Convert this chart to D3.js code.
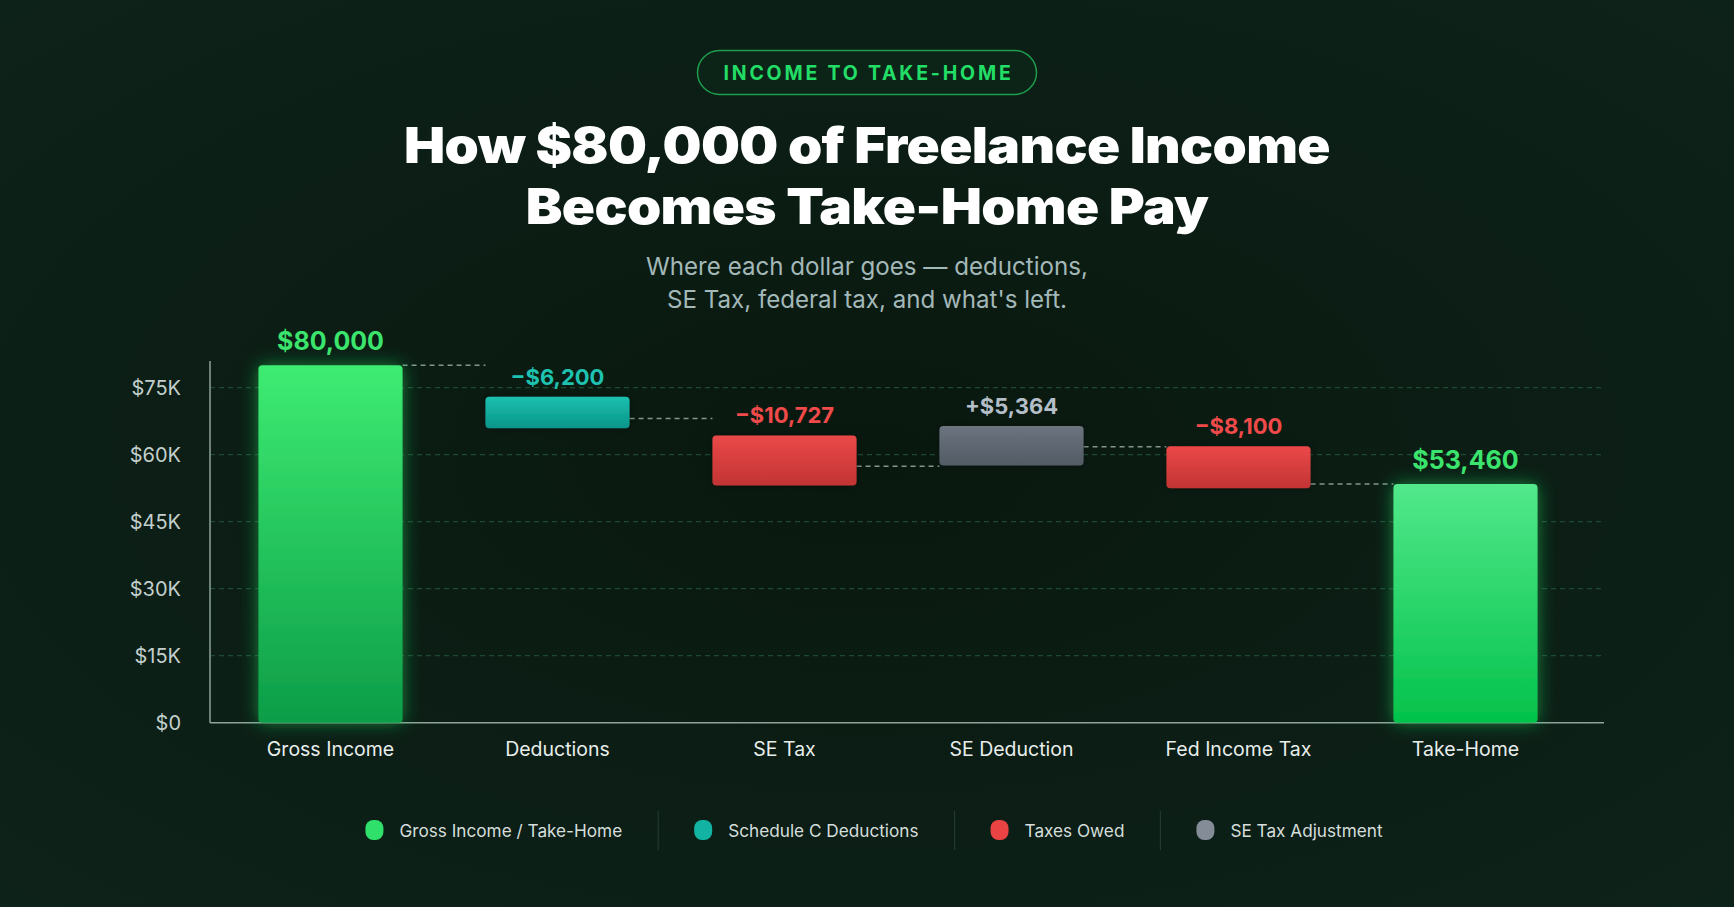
<!DOCTYPE html>
<html>
<head>
<meta charset="utf-8">
<script src="https://cdn.jsdelivr.net/npm/d3@7/dist/d3.min.js"></script>
<style>
  html, body { margin: 0; padding: 0; background: #0a1a12; }
  svg { display: block; }
</style>
</head>
<body>
<svg id="chart" width="1734" height="907"></svg>
<script>
// ---- data ----
const categories = ["Gross Income", "Deductions", "SE Tax", "SE Deduction", "Fed Income Tax", "Take-Home"];
const changes = [80000, -6200, -10727, 5364, -8100, 53460];
const kinds = ["total", "deduction", "tax", "adjust", "tax", "total"];
// floating bar extents (dollars)
const barLow  = [0, 65900, 53100, 57600, 52500, 0];
const barHigh = [80000, 73000, 64300, 66400, 61900, 53460];
// dashed connector level between consecutive bars (dollars)
const connectorLevel = [80000, 68100, 57400, 61800, 53460];
const yTicks = [0, 15000, 30000, 45000, 60000, 75000];
const legendLabels = ["Gross Income / Take-Home", "Schedule C Deductions", "Taxes Owed", "SE Tax Adjustment"];
const legendKinds = ["total", "deduction", "tax", "adjust"];

const colors = {
  total:     { label: "#3be46d", legend: "#2fe06a" },
  deduction: { label: "#1ec2b1", legend: "#13b3a4", top: "#1cc0af", bottom: "#09958a" },
  tax:       { label: "#f04a4a", legend: "#e94343", top: "#eb4848", bottom: "#c23434" },
  adjust:    { label: "#b3bec8", legend: "#838c97", top: "#6b747f", bottom: "#525b64" }
};

const W = 1734, H = 907;
const svg = d3.select("#chart");
const defs = svg.append("defs");

// background
const bg = defs.append("radialGradient").attr("id", "bg").attr("cx", "50%").attr("cy", "50%").attr("r", "75%");
bg.append("stop").attr("offset", "0%").attr("stop-color", "#09180f");
bg.append("stop").attr("offset", "100%").attr("stop-color", "#0e231a");
svg.append("rect").attr("width", W).attr("height", H).attr("fill", "url(#bg)");

function vGrad(id, top, bottom) {
  const g = defs.append("linearGradient").attr("id", id).attr("x1", 0).attr("y1", 0).attr("x2", 0).attr("y2", 1);
  g.append("stop").attr("offset", "0%").attr("stop-color", top);
  g.append("stop").attr("offset", "100%").attr("stop-color", bottom);
}
vGrad("g-gross", "#3eec72", "#0c9d48");
vGrad("g-take", "#52e88b", "#03c24b");
vGrad("g-deduction", colors.deduction.top, colors.deduction.bottom);
vGrad("g-tax", colors.tax.top, colors.tax.bottom);
vGrad("g-adjust", colors.adjust.top, colors.adjust.bottom);

function glow(id, color, std, op) {
  const f = defs.append("filter").attr("id", id).attr("x", "-40%").attr("y", "-40%").attr("width", "180%").attr("height", "180%");
  f.append("feGaussianBlur").attr("in", "SourceAlpha").attr("stdDeviation", std).attr("result", "b");
  f.append("feFlood").attr("flood-color", color).attr("flood-opacity", op);
  f.append("feComposite").attr("in2", "b").attr("operator", "in").attr("result", "g");
  const m = f.append("feMerge");
  m.append("feMergeNode").attr("in", "g");
  m.append("feMergeNode").attr("in", "SourceGraphic");
}
glow("glow-green", "#1fd45f", 9, 0.55);
glow("glow-soft", "#000000", 4, 0.35);

// centered lines; width matched to the reference by horizontal scale (title) or size (subtitle)
function textLines(lines, opts) {
  const els = lines.map((line, i) => svg.append("text")
    .attr("transform", `translate(${opts.x},${opts.y + i * opts.lh})`).attr("text-anchor", "middle")
    .attr("font-family", "Inter").attr("font-weight", opts.weight).attr("font-size", opts.size)
    .attr("letter-spacing", opts.ls || null).attr("fill", opts.fill).text(line));
  const w = els[0].node().getComputedTextLength();
  if (opts.fitBy === "stretch") {
    const sx = opts.target / w;
    els.forEach((t, i) => t.attr("transform", `translate(${opts.x},${opts.y + i * opts.lh}) scale(${sx.toFixed(4)},1)`));
  } else {
    els.forEach(t => t.attr("font-size", (opts.size * opts.target / w).toFixed(2)));
  }
}

// ---- header ----
const cx = 867;
svg.append("rect").attr("x", 697.5).attr("y", 50.5).attr("width", 339).attr("height", 44).attr("rx", 22)
  .attr("fill", "#0c2418").attr("stroke", "#1e9e4c").attr("stroke-width", 1.5);
svg.append("text").attr("x", cx + 1.5).attr("y", 80).attr("text-anchor", "middle")
  .attr("font-family", "Inter").attr("font-weight", 700).attr("font-size", 19.5)
  .attr("letter-spacing", "2.8px").attr("fill", "#22dd66").text("INCOME TO TAKE-HOME");

textLines(["How $80,000 of Freelance Income", "Becomes Take-Home Pay"],
  { x: cx, y: 163, lh: 60.5, weight: 900, size: 49.5, ls: "-0.6px", fill: "#ffffff", target: 926, fitBy: "stretch" });

textLines(["Where each dollar goes \u2014 deductions,", "SE Tax, federal tax, and what's left."],
  { x: cx, y: 275, lh: 33, weight: 400, size: 23, fill: "#a3b8b8", target: 442, fitBy: "size" });

// ---- scales ----
const axisX = 210, plotRight = 1604;
const x = d3.scaleBand().domain(categories).range([217, 1579]).paddingInner(0.365).paddingOuter(0.1825);
const y = d3.scaleLinear().domain([0, 81000]).range([722.7, 360.9]);

// gridlines
svg.append("g").selectAll("line").data(yTicks.filter(t => t > 0)).join("line")
  .attr("x1", axisX).attr("x2", plotRight).attr("y1", d => y(d)).attr("y2", d => y(d))
  .attr("stroke", "#1d4a33").attr("stroke-width", 1.2).attr("stroke-dasharray", "5 4");

// y axis
const yAxis = svg.append("g").attr("transform", `translate(${axisX},0)`)
  .call(d3.axisLeft(y).tickValues(yTicks).tickSize(0).tickPadding(29)
    .tickFormat(d => d === 0 ? "$0" : "$" + d / 1000 + "K"));
yAxis.select(".domain").remove();
yAxis.selectAll("text").attr("font-family", "Inter").attr("font-size", 20).attr("fill", "#c3cfcd").attr("dy", "0.35em");
svg.append("line").attr("x1", axisX).attr("x2", axisX).attr("y1", 360.9).attr("y2", 722.7)
  .attr("stroke", "#8ea39a").attr("stroke-width", 1.5);

// x axis
const xAxis = svg.append("g").attr("transform", `translate(0,${y(0)})`)
  .call(d3.axisBottom(x).tickSize(0).tickPadding(19.5));
xAxis.select(".domain").remove();
xAxis.selectAll("text").attr("font-family", "Inter").attr("font-size", 19.5).attr("fill", "#e8eeec").attr("dy", "0.7em");
svg.append("line").attr("x1", axisX).attr("x2", plotRight).attr("y1", y(0)).attr("y2", y(0))
  .attr("stroke", "#8ea39a").attr("stroke-width", 1.5);

// connectors
const conn = connectorLevel.map((lvl, i) => ({ i, lvl }));
svg.append("g").selectAll("line").data(conn).join("line")
  .attr("x1", d => x(categories[d.i]) + x.bandwidth())
  .attr("x2", d => x(categories[d.i + 1]))
  .attr("y1", d => y(d.lvl)).attr("y2", d => y(d.lvl))
  .attr("stroke", "#a9c2b5").attr("stroke-opacity", 0.75).attr("stroke-width", 1.5)
  .attr("stroke-dasharray", "5 4");

// bars
const bars = categories.map((c, i) => ({ c, i, kind: kinds[i], lo: barLow[i], hi: barHigh[i], v: changes[i] }));
function fillFor(d) {
  if (d.kind === "total") return d.i === 0 ? "url(#g-gross)" : "url(#g-take)";
  return "url(#g-" + d.kind + ")";
}
svg.append("g").selectAll("rect").data(bars).join("rect")
  .attr("x", d => x(d.c)).attr("width", x.bandwidth())
  .attr("y", d => y(d.hi)).attr("height", d => y(d.lo) - y(d.hi))
  .attr("rx", 4).attr("fill", fillFor)
  .attr("filter", d => d.kind === "total" ? "url(#glow-green)" : "url(#glow-soft)");

// value labels
const fmt = d3.format(",");
function labelText(d) {
  if (d.kind === "total") return "$" + fmt(d.v);
  return (d.v < 0 ? "\u2212" : "+") + "$" + fmt(Math.abs(d.v));
}
svg.append("g").selectAll("text").data(bars).join("text")
  .attr("x", d => x(d.c) + x.bandwidth() / 2)
  .attr("y", d => y(d.hi) - (d.kind === "total" ? 15 : 12))
  .attr("text-anchor", "middle").attr("font-family", "Inter").attr("font-weight", 700)
  .attr("font-size", d => d.kind === "total" ? 25 : 22)
  .attr("fill", d => colors[d.kind].label).text(labelText);

// ---- legend ----
const lg = svg.append("g");
const ly = 830;
let lx = 0;
legendLabels.forEach((lab, i) => {
  const g = lg.append("g");
  g.append("rect").attr("x", lx).attr("y", ly - 10).attr("width", 18).attr("height", 20).attr("rx", 8)
    .attr("fill", colors[legendKinds[i]].legend);
  const t = g.append("text").attr("x", lx + 34).attr("y", ly + 6.5)
    .attr("font-family", "Inter").attr("font-size", 17.2).attr("fill", "#d5dedc").text(lab);
  const w = t.node().getComputedTextLength();
  lx += 34 + w;
  if (i < legendLabels.length - 1) {
    lg.append("line").attr("x1", lx + 36).attr("x2", lx + 36).attr("y1", ly - 19).attr("y2", ly + 20)
      .attr("stroke", "#223a2e").attr("stroke-width", 1.2);
    lx += 72;
  }
});
lg.attr("transform", `translate(${874 - lx / 2},0)`);
</script>
</body>
</html>
